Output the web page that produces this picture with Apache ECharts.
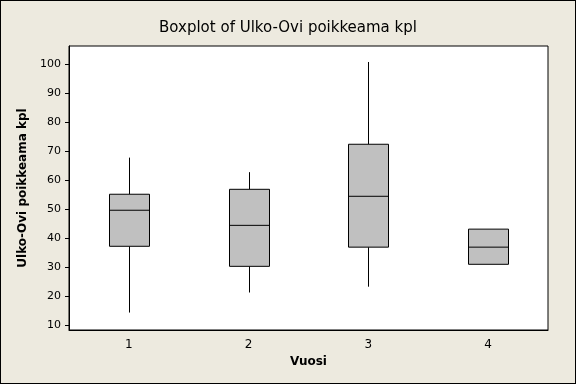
<!DOCTYPE html>
<html><head><meta charset="utf-8">
<script src="https://cdn.jsdelivr.net/npm/echarts@6/dist/echarts.min.js"></script>
<style>html,body{margin:0;padding:0;background:#EDEADF}#w{width:576px;height:384px;box-sizing:border-box;border:1px solid #000}#c{width:574px;height:382px}</style>
</head><body><div id="w"><div id="c"></div></div>
<script>
const categories = ['1', '2', '3', '4'];
const whiskerLow = [14.5, 21.4, 23.4, 31.1];
const q1 = [37.3, 30.4, 37.0, 31.1];
const median = [49.7, 44.5, 54.5, 37.0];
const q3 = [55.2, 56.9, 72.4, 43.2];
const whiskerHigh = [67.8, 62.8, 100.7, 43.2];
const yTicks = [10, 20, 30, 40, 50, 60, 70, 80, 90, 100];

const data = categories.map((c, i) => [i, whiskerLow[i], q1[i], median[i], q3[i], whiskerHigh[i]]);
const font = 'DejaVu Sans';
const chart = echarts.init(document.getElementById('c'), null, {renderer: 'canvas'});
chart.setOption({
  animation: false,
  backgroundColor: '#EDEADF',
  title: {text: 'Boxplot of Ulko-Ovi poikkeama kpl', left: 'center', top: 15,
    textStyle: {fontFamily: font, fontSize: 15, fontWeight: 'normal', color: '#000'}},
  grid: {left: 68, top: 45, width: 479, height: 284, show: true, backgroundColor: '#fff', borderColor: '#000', borderWidth: 1},
  xAxis: {type: 'category', data: categories, boundaryGap: true,
    name: 'Vuosi', nameLocation: 'middle', nameGap: 26,
    nameTextStyle: {fontFamily: font, fontSize: 12, fontWeight: 'bold', color: '#000'},
    axisLine: {lineStyle: {color: '#000'}},
    axisTick: {alignWithLabel: true, length: 4, lineStyle: {color: '#000'}},
    axisLabel: {fontFamily: font, fontSize: 12, color: '#000', margin: 9},
    splitLine: {show: false}},
  yAxis: {type: 'value', min: 8.5, max: 106.2,
    name: 'Ulko-Ovi poikkeama kpl', nameLocation: 'middle', nameGap: 37,
    nameTextStyle: {fontFamily: font, fontSize: 12, fontWeight: 'bold', color: '#000'},
    axisLine: {show: true, lineStyle: {color: '#000'}},
    axisTick: {show: true, length: 4, customValues: yTicks, lineStyle: {color: '#000'}},
    axisLabel: {fontFamily: font, fontSize: 11, color: '#000', margin: 8, customValues: yTicks},
    splitLine: {show: false}},
  series: [{
    type: 'custom',
    data: data,
    encode: {x: 0, y: [1, 2, 3, 4, 5]},
    renderItem: function (params, api) {
      const x = api.value(0);
      const pLow = api.coord([x, api.value(1)]);
      const pQ1 = api.coord([x, api.value(2)]);
      const pMed = api.coord([x, api.value(3)]);
      const pQ3 = api.coord([x, api.value(4)]);
      const pHigh = api.coord([x, api.value(5)]);
      const hw = 20;
      const cx = Math.round(pMed[0]) + 0.5;
      const ls = {stroke: '#000', lineWidth: 1, fill: null};
      const children = [];
      if (pLow[1] - pQ1[1] > 0.5) children.push({type: 'line', shape: {x1: cx, y1: pQ1[1], x2: cx, y2: pLow[1]}, style: ls});
      if (pQ3[1] - pHigh[1] > 0.5) children.push({type: 'line', shape: {x1: cx, y1: pHigh[1], x2: cx, y2: pQ3[1]}, style: ls});
      children.push({type: 'rect', shape: {x: cx - hw, y: pQ3[1], width: 2 * hw, height: pQ1[1] - pQ3[1]},
        style: {fill: '#C0C0C0', stroke: '#000', lineWidth: 1}});
      children.push({type: 'line', shape: {x1: cx - hw, y1: pMed[1], x2: cx + hw, y2: pMed[1]}, style: ls});
      return {type: 'group', children: children};
    }
  }]
});
</script></body></html>
